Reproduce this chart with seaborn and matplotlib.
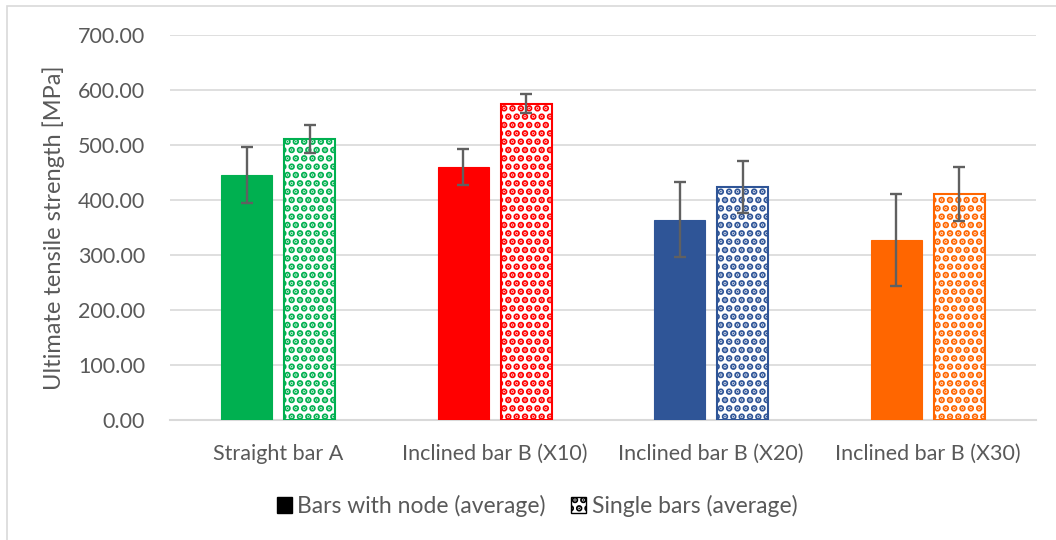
import numpy as np
import pandas as pd
import matplotlib
matplotlib.use("Agg")
import matplotlib.pyplot as plt
import seaborn as sns
from matplotlib.patches import Patch, Rectangle

# ---- data -------------------------------------------------------------
categories = ["Straight bar A", "Inclined bar B (X10)",
              "Inclined bar B (X20)", "Inclined bar B (X30)"]
series = ["Bars with node (average)", "Single bars (average)"]
node_mean = [445.0, 460.0, 364.0, 327.0]
node_err = [51.0, 33.0, 68.0, 84.0]
single_mean = [511.0, 575.0, 424.0, 411.0]
single_err = [25.0, 17.0, 47.0, 49.0]
bar_colors = ["#00B050", "#FF0000", "#2F5597", "#FF6600"]
y_ticks = [0, 100, 200, 300, 400, 500, 600, 700]

df = pd.DataFrame({
    "category": categories * 2,
    "series": [series[0]] * 4 + [series[1]] * 4,
    "value": node_mean + single_mean,
})

# ---- style ------------------------------------------------------------
sns.set_style("white")
plt.rcParams["font.family"] = ["Lato", "DejaVu Sans"]
plt.rcParams["hatch.linewidth"] = 3.4
text_color = "#595959"
grid_color = "#D9D9D9"
fs = 15.5

fig = plt.figure(figsize=(10.56, 5.40), dpi=100)
ax = fig.add_axes([170 / 1056, 1 - 420 / 540, (1036 - 170) / 1056, (420 - 35) / 540])

sns.barplot(data=df, x="category", y="value", hue="series",
            errorbar=None, width=0.582, gap=0.19, ax=ax, legend=False)

node_bars, single_bars = ax.containers[0], ax.containers[1]
for patch, c in zip(node_bars, bar_colors):
    patch.set_facecolor(c)
    patch.set_edgecolor(c)
    patch.set_linewidth(0.8)
    patch.set_zorder(3)
for patch, c in zip(single_bars, bar_colors):
    patch.set_facecolor("white")
    patch.set_edgecolor(c)
    patch.set_hatch("..")
    patch.set_linewidth(1.5)
    patch.set_zorder(3)

# error bars centred on each bar top
for bars, errs in ((node_bars, node_err), (single_bars, single_err)):
    xs = [p.get_x() + p.get_width() / 2 for p in bars]
    ys = [p.get_height() for p in bars]
    ax.errorbar(xs, ys, yerr=errs, fmt="none", ecolor="#606060",
                elinewidth=1.7, capsize=4.3, capthick=1.7, zorder=5)

# ---- axes -------------------------------------------------------------
ax.set_ylim(0, 700)
ax.set_xlim(-0.5, 3.5)
ax.set_yticks(y_ticks)
ax.set_yticklabels([f"{v:.2f}" for v in y_ticks])
ax.yaxis.grid(True, color=grid_color, linewidth=1.2, zorder=0)
ax.set_axisbelow(True)
for side in ("left", "right", "top"):
    ax.spines[side].set_visible(False)
ax.spines["bottom"].set_color(grid_color)
ax.spines["bottom"].set_linewidth(1.5)
ax.tick_params(axis="both", length=0, labelsize=fs, colors=text_color)
ax.tick_params(axis="y", pad=18)
ax.tick_params(axis="x", pad=17)
ax.set_xlabel("")
ax.set_ylabel("Ultimate tensile strength [MPa]", fontsize=17,
              color=text_color, labelpad=9)

# ---- legend -----------------------------------------------------------
handles = [
    Patch(facecolor="black", edgecolor="black", label=series[0]),
    Patch(facecolor="white", edgecolor="black", hatch="..", label=series[1]),
]
fig.legend(handles=handles, loc="center", bbox_to_anchor=(537 / 1056, 1 - 506 / 540),
           ncol=2, frameon=False, fontsize=16.5, labelcolor=text_color,
           handlelength=0.65, handleheight=0.65, handletextpad=0.25,
           columnspacing=1.1)

# chart-area frame
fig.patches.append(Rectangle((7 / 1056, -0.2), 1.2, 1.2 - 6 / 540,
                             transform=fig.transFigure, fill=False,
                             edgecolor=grid_color, linewidth=1.2))

fig.savefig("out.png", dpi=100)
